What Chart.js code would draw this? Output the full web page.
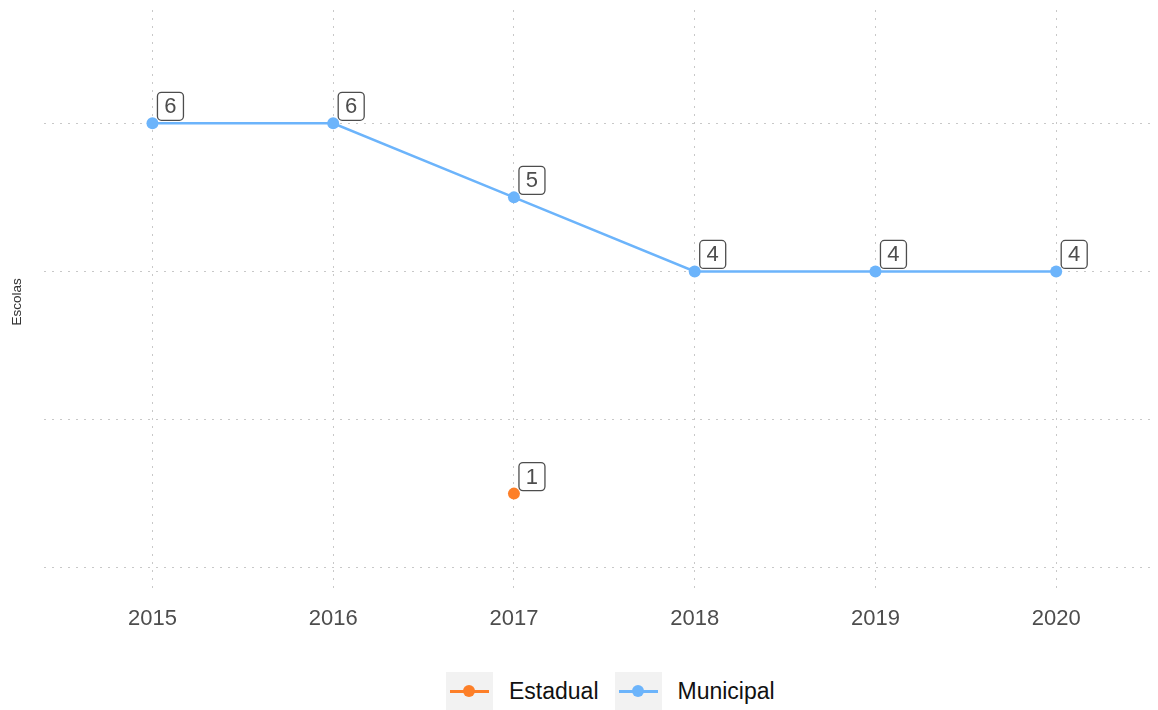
<!DOCTYPE html>
<html>
<head>
<meta charset="utf-8">
<script src="https://cdn.jsdelivr.net/npm/chart.js@4"></script>
<style>
  body { margin: 0; background: #fff; font-family: "Liberation Sans", Arial, sans-serif; }
  #wrap { position: relative; width: 1158px; height: 710px; }
  #chart { position: absolute; left: 0; top: 0; }
  #legend { position: absolute; top: 672px; left: 446px; display: flex; align-items: center; }
  .key { width: 47px; height: 38px; background: #f2f2f2; position: relative; }
  .key .ln { position: absolute; left: 4px; right: 4px; top: 18px; height: 2.5px; }
  .key .dt { position: absolute; left: 17px; top: 13px; width: 12px; height: 12px; border-radius: 50%; }
  .lbl { font-size: 23px; color: #111; margin: 0 16px 0 16px; }
</style>
</head>
<body>
<div id="wrap">
  <canvas id="chart" width="1158" height="650"></canvas>
  <div id="legend"></div>
</div>
<script>
const years = [2015, 2016, 2017, 2018, 2019, 2020];
const estadual = [null, null, 1, null, null, null];
const municipal = [6, 6, 5, 4, 4, 4];
const yGrid = [0, 2, 4, 6];

const colEstadual = "#fd7f28";
const colMunicipal = "#6cb4fb";

function toPoints(values) {
  return years.map((x, i) => ({ x: x, y: values[i] })).filter((p) => p.y !== null);
}

// boxed value labels, up and to the right of each point
const valueLabels = {
  id: "valueLabels",
  afterDatasetsDraw(chart) {
    const ctx = chart.ctx;
    ctx.save();
    ctx.font = "22px 'Liberation Sans', Arial, sans-serif";
    ctx.textAlign = "center";
    ctx.textBaseline = "middle";
    chart.data.datasets.forEach((ds, di) => {
      const meta = chart.getDatasetMeta(di);
      meta.data.forEach((el, i) => {
        const bx = el.x + 5, by = el.y - 31, w = 26, h = 28;
        ctx.beginPath();
        ctx.roundRect(bx, by, w, h, 4);
        ctx.fillStyle = "#fff";
        ctx.fill();
        ctx.lineWidth = 1.3;
        ctx.strokeStyle = "#4d4d4d";
        ctx.stroke();
        ctx.fillStyle = "#4d4d4d";
        ctx.fillText(String(ds.data[i].y), bx + w / 2, by + h / 2 + 1);
      });
    });
    ctx.restore();
  },
};

var options = {
  type: "line",
  data: {
    datasets: [
      {
        label: "Municipal",
        data: toPoints(municipal),
        borderColor: colMunicipal,
        backgroundColor: colMunicipal,
        borderWidth: 2.5,
        pointRadius: 6,
        pointBorderWidth: 0,
        tension: 0,
      },
      {
        label: "Estadual",
        data: toPoints(estadual),
        borderColor: colEstadual,
        backgroundColor: colEstadual,
        borderWidth: 2.5,
        pointRadius: 6,
        pointBorderWidth: 0,
      },
    ],
  },
  options: {
    responsive: false,
    animation: false,
    layout: { padding: { top: 10, right: 0, bottom: 6, left: 0 } },
    scales: {
      x: {
        type: "linear",
        min: 2014.4,
        max: 2020.53,
        afterBuildTicks: (axis) => {
          axis.ticks = years.map((v) => ({ value: v }));
        },
        ticks: {
          padding: 12,
          color: "#4d4d4d",
          font: { size: 22, family: "'Liberation Sans', Arial, sans-serif" },
          callback: (v) => String(v),
        },
        grid: {
          color: "#c8c8c8",
          lineWidth: 1,
          drawTicks: false,
        },
        border: { display: false, dash: [2, 6] },
      },
      y: {
        min: -0.35,
        max: 7.53,
        afterBuildTicks: (axis) => {
          axis.ticks = yGrid.map((v) => ({ value: v }));
        },
        afterFit: (axis) => {
          axis.width = 44;
        },
        ticks: { display: false },
        grid: {
          color: "#c8c8c8",
          lineWidth: 1,
          drawTicks: false,
        },
        border: { display: false, dash: [2, 6] },
        title: {
          display: true,
          text: "Escolas",
          color: "#333",
          padding: { top: 9, bottom: 0 },
          font: { size: 13.5, family: "'Liberation Sans', Arial, sans-serif" },
        },
      },
    },
    plugins: {
      legend: { display: false },
      tooltip: { enabled: false },
    },
  },
  plugins: [valueLabels],
};

var ctx = document.getElementById("chart").getContext("2d");
window.chart = new Chart(ctx, options);

// legend: Estadual first, then Municipal
const legend = document.getElementById("legend");
[["Estadual", colEstadual], ["Municipal", colMunicipal]].forEach(([name, col]) => {
  const key = document.createElement("div");
  key.className = "key";
  key.innerHTML = `<div class="ln" style="background:${col}"></div><div class="dt" style="background:${col}"></div>`;
  const lbl = document.createElement("span");
  lbl.className = "lbl";
  lbl.innerText = name;
  legend.appendChild(key);
  legend.appendChild(lbl);
});
</script>
</body>
</html>
